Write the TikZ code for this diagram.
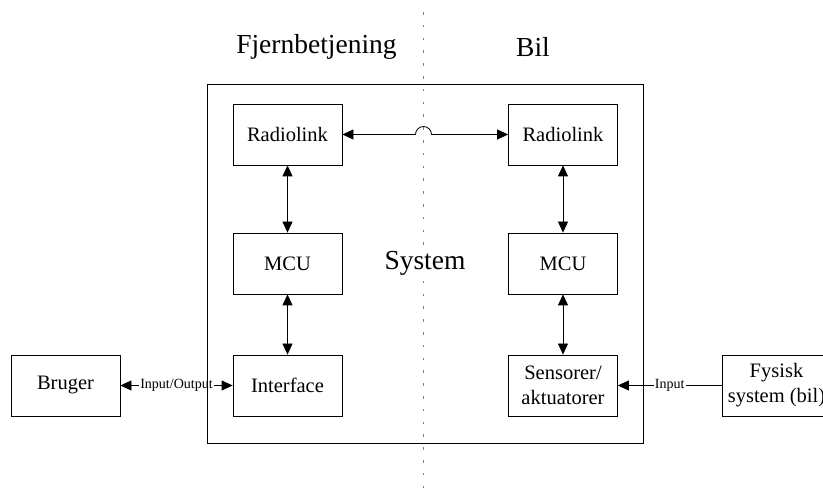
\documentclass[tikz,border=0pt]{standalone}
\usepackage{fontspec}
\setmainfont{Liberation Serif}
\usetikzlibrary{arrows.meta,positioning}

\begin{document}
\begin{tikzpicture}[x=1pt,y=1pt,>={Triangle[length=11pt,width=10pt]},on grid,
        blok/.style={draw,line width=0.8pt,minimum width=109pt,minimum height=61pt,align=center,font=\fontsize{20.5}{25}\selectfont},
        lille/.style={fill=white,inner sep=1pt,font=\fontsize{14}{16}\selectfont},
        overskrift/.style={font=\fontsize{27.5}{30}\selectfont}]
        \useasboundingbox (0,0) rectangle (823,497);
        \node[blok] (radioL) at (287.5,362.5) {Radiolink};
        \node[blok] (mcuL) [below=129pt of radioL] {MCU};
        \node[blok] (ifL) [below=122pt of mcuL] {Interface};
        \node[blok] (radioR) [right=275.5pt of radioL] {Radiolink};
        \node[blok] (mcuR) [below=129pt of radioR] {MCU};
        \node[blok] (sensR) [below=122pt of mcuR] {Sensorer/\\aktuatorer};
        \node[blok] (bruger) [left=222pt of ifL] {Bruger};
        \node[blok] (fysisk) [right=213.5pt of sensR] {Fysisk\\system (bil)};
        \node[overskrift] (fjern) at (316.5,450) {Fjernbetjening};
        \node[overskrift] (bil) at (533,450) {Bil};
        % skillelinje
        \coordinate (delTop) at (423.5,485);
        \coordinate (delBund) at (423.5,5);
        \draw[gray,line width=1.3pt,dash pattern=on 2.7pt off 10.1pt] (delTop) -- (delBund);
        \coordinate (hop) at (radioL.east -| delTop);
        \draw[<->,line width=0.8pt] (radioL.east) -- ([xshift=-8pt]hop) arc[start angle=180,end angle=0,radius=8pt] -- (radioR.west);
        \path[<->,line width=0.8pt]
                (radioL) edge (mcuL)
                (mcuL) edge (ifL)
                (radioR) edge (mcuR)
                (mcuR) edge (sensR)
                (bruger) edge node[lille] {Input/Output} (ifL);
        \path[->,line width=0.8pt] (fysisk) edge node[lille] {Input} (sensR);
        \node[draw,line width=0.8pt,minimum width=436pt,minimum height=359pt] (sys) at (425,233.5) {};
        \node[overskrift,fill=white,inner sep=1pt] (systxt) at (sys.center) {System};
\end{tikzpicture}
\end{document}
